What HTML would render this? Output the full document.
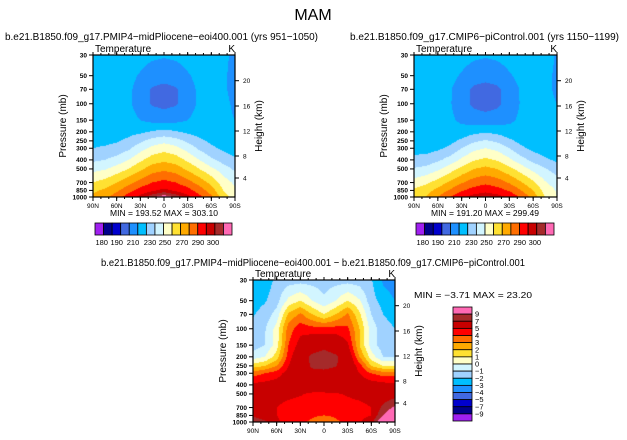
<!DOCTYPE html>
<html><head><meta charset="utf-8">
<style>
html,body{margin:0;padding:0;background:#fff;}
#root{position:relative;width:627px;height:440px;overflow:hidden;font-family:"Liberation Sans",sans-serif;}
canvas{position:absolute;}
svg{position:absolute;left:0;top:0;}
</style></head>
<body>
<div id="root">
<canvas id="c1"></canvas>
<canvas id="c2"></canvas>
<canvas id="c3"></canvas>
<svg id="ov" width="627" height="440"></svg>
</div>
<script>
// ---- data ----
const lats = [90,75,60,45,30,15,0,-15,-30,-45,-60,-75,-90];
const plevs = [30,50,70,100,150,200,250,300,400,500,700,850,1000];
const tempPlio = [
[218,218,217,216,214,212,211,212,214,216,216,213,207],
[217,217,216,213,209,205,204,205,209,213,214,212,206],
[216,216,215,212,206,199,197,199,206,212,214,212,206],
[216,217,216,212,205,199,197,199,205,212,215,213,208],
[216,216,216,214,210,207,206,207,210,214,215,213,210],
[216,216,216,217,218,221,223,221,218,216,215,213,211],
[218,218,219,222,228,234,237,234,228,222,218,215,212],
[220,221,223,228,236,243,246,243,236,228,222,218,214],
[228,230,234,240,248,255,258,255,248,240,232,226,222],
[237,239,244,250,258,265,268,265,258,250,242,235,228],
[250,254,260,267,274,280,283,280,274,266,257,245,238],
[258,262,268,276,284,289,292,289,284,275,265,250,242],
[262,266,276,285,293,299,303,299,293,283,272,255,245]];
const tempCtrl = [
[219,218,217,216,214,212,211,212,214,216,216,214,209],
[218,217,216,213,209,205,204,205,209,213,215,213,208],
[217,216,215,211,205,198,196,198,205,211,214,213,208],
[216,216,215,211,204,198,196,198,204,211,214,213,210],
[216,215,214,212,208,205,204,205,208,212,214,213,212],
[214,214,214,214,214,217,219,217,214,214,214,213,212],
[215,215,215,217,222,228,231,228,222,217,215,213,212],
[216,216,218,222,230,237,240,237,230,222,217,214,212],
[223,224,228,234,242,249,252,249,242,234,227,222,218],
[231,233,238,245,253,260,263,260,253,245,237,231,225],
[244,248,254,262,269,275,278,275,269,261,252,241,235],
[252,256,263,271,279,284,287,284,279,270,260,246,239],
[255,260,270,280,288,294,297,294,288,278,266,250,240]];
const tempDiff = [
[-2.6,-2.5,-1.8,-1.5,-1.4,-1.4,-1.5,-1.4,-1.4,-1.5,-1.9,-3.2,-3.6],
[-2.4,-2.1,-1.4,0.3,1.0,0.0,-0.8,0.0,1.0,0.1,-1.6,-2.4,-3.0],
[-2.1,-1.6,-0.6,2.2,3.2,2.0,1.0,2.0,3.2,1.2,-1.0,-2.0,-2.5],
[-1.6,-1.1,0.4,3.5,4.6,4.4,4.3,4.4,4.2,2.0,-0.5,-1.5,-2.0],
[-1.5,-1.0,0.5,4.0,5.5,6.2,6.6,6.2,5.2,2.0,-0.5,-1.5,-1.5],
[-0.5,0.0,1.5,4.5,6.2,7.3,7.6,7.2,6.2,3.0,0.5,-1.0,-1.0],
[1.5,2.0,3.0,5.0,6.2,7.2,7.4,7.1,6.2,4.5,2.0,1.0,1.0],
[3.5,4.0,4.5,5.5,6.1,6.6,6.6,6.4,6.1,5.0,4.0,3.5,3.5],
[5.3,5.4,5.6,5.8,6.0,6.0,6.0,6.0,6.0,5.8,5.6,5.4,5.3],
[5.6,5.6,5.5,5.3,5.1,4.8,4.8,4.9,5.1,5.3,5.5,5.6,5.8],
[5.5,5.3,5.0,4.6,4.5,4.4,4.4,4.5,4.6,4.7,5.0,7.5,9.5],
[6.5,5.5,5.0,4.6,4.4,4.2,4.0,4.2,4.4,4.6,5.0,9.0,12],
[9.0,7.5,5.2,4.6,4.2,3.8,3.0,3.8,4.3,4.8,6.0,12,23]];
const tempLevels = [180,185,190,200,210,220,230,240,250,260,270,280,290,295,300];
const diffLevels = [-9,-7,-5,-4,-3,-2,-1,0,1,2,3,4,5,7,9];
const tempBarLabels = ["180","190","210","230","250","270","290","300"];
const diffBarLabels = ["9","7","5","4","3","2","1","0","\u22121","\u22122","\u22123","\u22124","\u22125","\u22127","\u22129"];
const pTickLabels = [30,50,70,100,150,200,250,300,400,500,700,850,1000];
const latTickLabels = ["90N","60N","30N","0","30S","60S","90S"];
const hTickLabels = ["20","16","12","8","4"];

const colors = ["#a020f0","#00008b","#0000cd","#4169e1","#1e90ff","#00bfff","#a0d2ff","#d2f5ff","#ffffc8","#ffe132","#ffaa00","#ff6e00","#ff0000","#c80000","#a52a2a","#ff69b4"];

// ---- scales ----
function yP(p,top,h){return top+Math.log(p/30)/Math.log(1000/30)*h;}
function colorFor(v,levels){let i=0;while(i<levels.length&&v>=levels[i])i++;return colors[i];}
function sample(grid,lat,lp){
  let fi=(90-lat)/15; let i0=Math.min(Math.floor(fi),11); let tx=fi-i0;
  const lps=plevs.map(p=>Math.log(p));
  let j0=0; while(j0<11&&lp>lps[j0+1])j0++;
  let ty=(lp-lps[j0])/(lps[j0+1]-lps[j0]);
  const a=grid[j0][i0],b=grid[j0][i0+1],c=grid[j0+1][i0],d=grid[j0+1][i0+1];
  return (a*(1-tx)+b*tx)*(1-ty)+(c*(1-tx)+d*tx)*ty;
}
function drawField(id,grid,levels,left,top,w,h){
  const cv=document.getElementById(id);cv.width=w;cv.height=h;cv.style.left=left+'px';cv.style.top=top+'px';
  const ctx=cv.getContext('2d');
  for(let y=0;y<h;y++){for(let x=0;x<w;x++){
    const lat=90-(x+0.5)/w*180;
    const lp=Math.log(30)+(y+0.5)/h*Math.log(1000/30);
    ctx.fillStyle=colorFor(sample(grid,lat,lp),levels);ctx.fillRect(x,y,1,1);
  }}
}
const NS="http://www.w3.org/2000/svg";
const ov=document.getElementById('ov');
function el(tag,attrs,parent){const e=document.createElementNS(NS,tag);for(const k in attrs)e.setAttribute(k,attrs[k]);(parent||ov).appendChild(e);return e;}
function txt(s,x,y,size,anchor,name,extra){const t=el('text',Object.assign({x:x,y:y,'font-size':size,'text-anchor':anchor||'start',fill:'#000'},extra||{}));t.textContent=s;


return t;}

const hOffsets=[25.7,51,76,101,123];
function axes(left,top,w,h,title,minmax,pre){
  drawField(pre.id,pre.grid,pre.levels,left,top,w,h);
  const g=el('g',{});
  
  
  el('rect',{x:left,y:top,width:w,height:h,fill:'none',stroke:'#000','stroke-width':1.2},g);
  pTickLabels.forEach(p=>{const y=yP(p,top,h);el('line',{x1:left-4,x2:left,y1:y,y2:y,stroke:'#000'},g);
    txt(String(p),left-6,y+2.3,6.5,'end',pre.name+'-pressure-tick-label',{'font-weight':'bold'});});
  latTickLabels.forEach((s,i)=>{const x=left+i*w/6;el('line',{x1:x,x2:x,y1:top+h,y2:top+h+4,stroke:'#000'},g);
    el('line',{x1:x,x2:x,y1:top,y2:top-3,stroke:'#000'},g);
    txt(s,x,top+h+11,6.5,'middle',pre.name+'-latitude-tick-label');});
  for(let i=1;i<18;i++){const x=left+i*w/18;el('line',{x1:x,x2:x,y1:top+h,y2:top+h+2,stroke:'#000'},g);el('line',{x1:x,x2:x,y1:top,y2:top-2,stroke:'#000'},g);}
  hTickLabels.forEach((s,i)=>{const y=top+hOffsets[i];el('line',{x1:left+w,x2:left+w+4,y1:y,y2:y,stroke:'#000'},g);
    txt(s,left+w+8,y+2.3,6.5,'start',pre.name+'-height-tick-label');});
  txt('Pressure  (mb)',0,0,10,'middle',pre.name+'-y-axis-title',{transform:`translate(${left-27},${top+h/2}) rotate(-90)`});
  txt('Height  (km)',0,0,10,'middle',pre.name+'-right-axis-title',{transform:`translate(${left+w+27},${top+h/2}) rotate(-90)`});
  txt('Temperature',left+2,top-3,10,'start',pre.name+'-subtitle');
  txt('K',left+w,top-3,10,'end',pre.name+'-units');
  if(title)txt(title.s,title.x,title.y,10.5,'start',pre.name+'-title',{textLength:title.len,lengthAdjust:'spacingAndGlyphs'});
  if(minmax)txt(minmax.s,minmax.x,minmax.y,8.5,'start',pre.name+'-min-max',{textLength:minmax.len,lengthAdjust:'spacingAndGlyphs'});
}
function hbar(left,top,w,h,name){
  const n=16,bw=w/n;
  for(let i=0;i<n;i++){const r=el('rect',{x:left+i*bw,y:top,width:bw,height:h,fill:colors[i],stroke:'#000','stroke-width':0.8});
    
    }
  const lx=[101.7,116.7,133,150,165,182,198,213];
  tempBarLabels.forEach((s,i)=>txt(s,left+(lx[i]-95)*w/137,top+h+10,7.5,'middle',name+'-label'));
}
function vbar(left,top,w,h,name){
  const n=16,bh=h/n;
  for(let i=0;i<n;i++){const r=el('rect',{x:left,y:top+i*bh,width:w,height:bh,fill:colors[n-1-i],stroke:'#000','stroke-width':0.8});
    
    }
  diffBarLabels.forEach((s,i)=>txt(s,left+w+3,top+(i+1)*bh+2.5,7.5,'start',name+'-label'));
}

txt('MAM',313,20,16,'middle','figure-title');
axes(93,55,142,142,{s:'b.e21.B1850.f09_g17.PMIP4\u2212midPliocene\u2212eoi400.001  (yrs 951\u22121050)',x:5,y:40,len:313},{s:'MIN = 193.52   MAX = 303.10',x:110,y:216,len:108},{id:'c1',grid:tempPlio,levels:tempLevels,name:'pliocene'});
hbar(95,223,137,12,'pliocene-colorbar');
axes(414,55,143,142,{s:'b.e21.B1850.f09_g17.CMIP6\u2212piControl.001  (yrs 1150\u22121199)',x:350,y:40,len:269},{s:'MIN = 191.20   MAX = 299.49',x:431,y:216,len:108},{id:'c2',grid:tempCtrl,levels:tempLevels,name:'picontrol'});
hbar(416,223,138,12,'picontrol-colorbar');
axes(253,280,142,142,{s:'b.e21.B1850.f09_g17.PMIP4\u2212midPliocene\u2212eoi400.001  \u2212  b.e21.B1850.f09_g17.CMIP6\u2212piControl.001',x:101,y:266,len:424},{s:'MIN =   \u22123.71   MAX =  23.20',x:414,y:298,len:118},{id:'c3',grid:tempDiff,levels:diffLevels,name:'difference'});
vbar(453,307,19,114,'difference-colorbar');
</script>
</body></html>
